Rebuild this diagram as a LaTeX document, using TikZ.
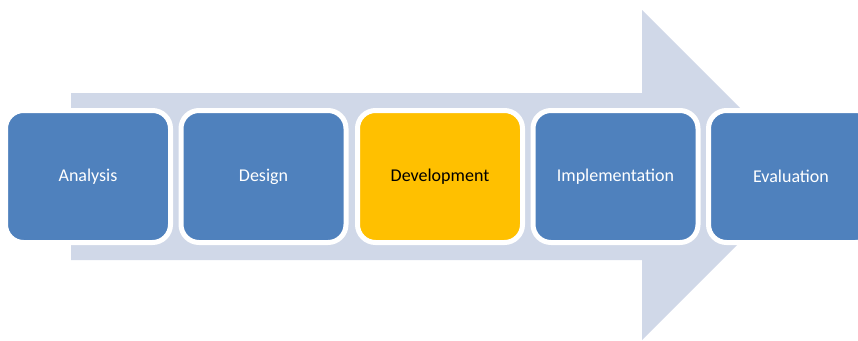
\documentclass[tikz,border=0pt]{standalone}
\usepackage{fontspec}
\setmainfont{Carlito}
\definecolor{arrowgrey}{HTML}{D0D8E8}
\definecolor{phaseblue}{HTML}{4F81BD}
\definecolor{phaseyellow}{HTML}{FFC000}
\tikzset{
  phase/.style={rectangle, rounded corners=18pt, draw=white, line width=5pt,
    fill=phaseblue, text=white, minimum width=165pt, minimum height=132pt,
    inner sep=0pt, font=\fontsize{18}{21}\selectfont},
  current/.style={phase, fill=phaseyellow, text=black}
}
\begin{document}
\begin{tikzpicture}[x=1pt,y=-1pt]
\useasboundingbox (0,0) rectangle (858,340);
\clip (0,0) rectangle (858,340);
\fill [arrowgrey] (71,93) -- (642,93) -- (642,10) -- (807,175) -- (642,340) -- (642,260) -- (71,260) -- cycle;
\node [phase] (analysis) at (88,176.5) {Analysis};
\node [phase] (design) at (263.5,176.5) {Design};
\node [current] (development) at (440,176.5) {Development};
\node [phase] (implementation) at (615.5,176.5) {Implementation};
\node [phase] (evaluation) at (791,176.5) {Evaluation};
\end{tikzpicture}
\end{document}
